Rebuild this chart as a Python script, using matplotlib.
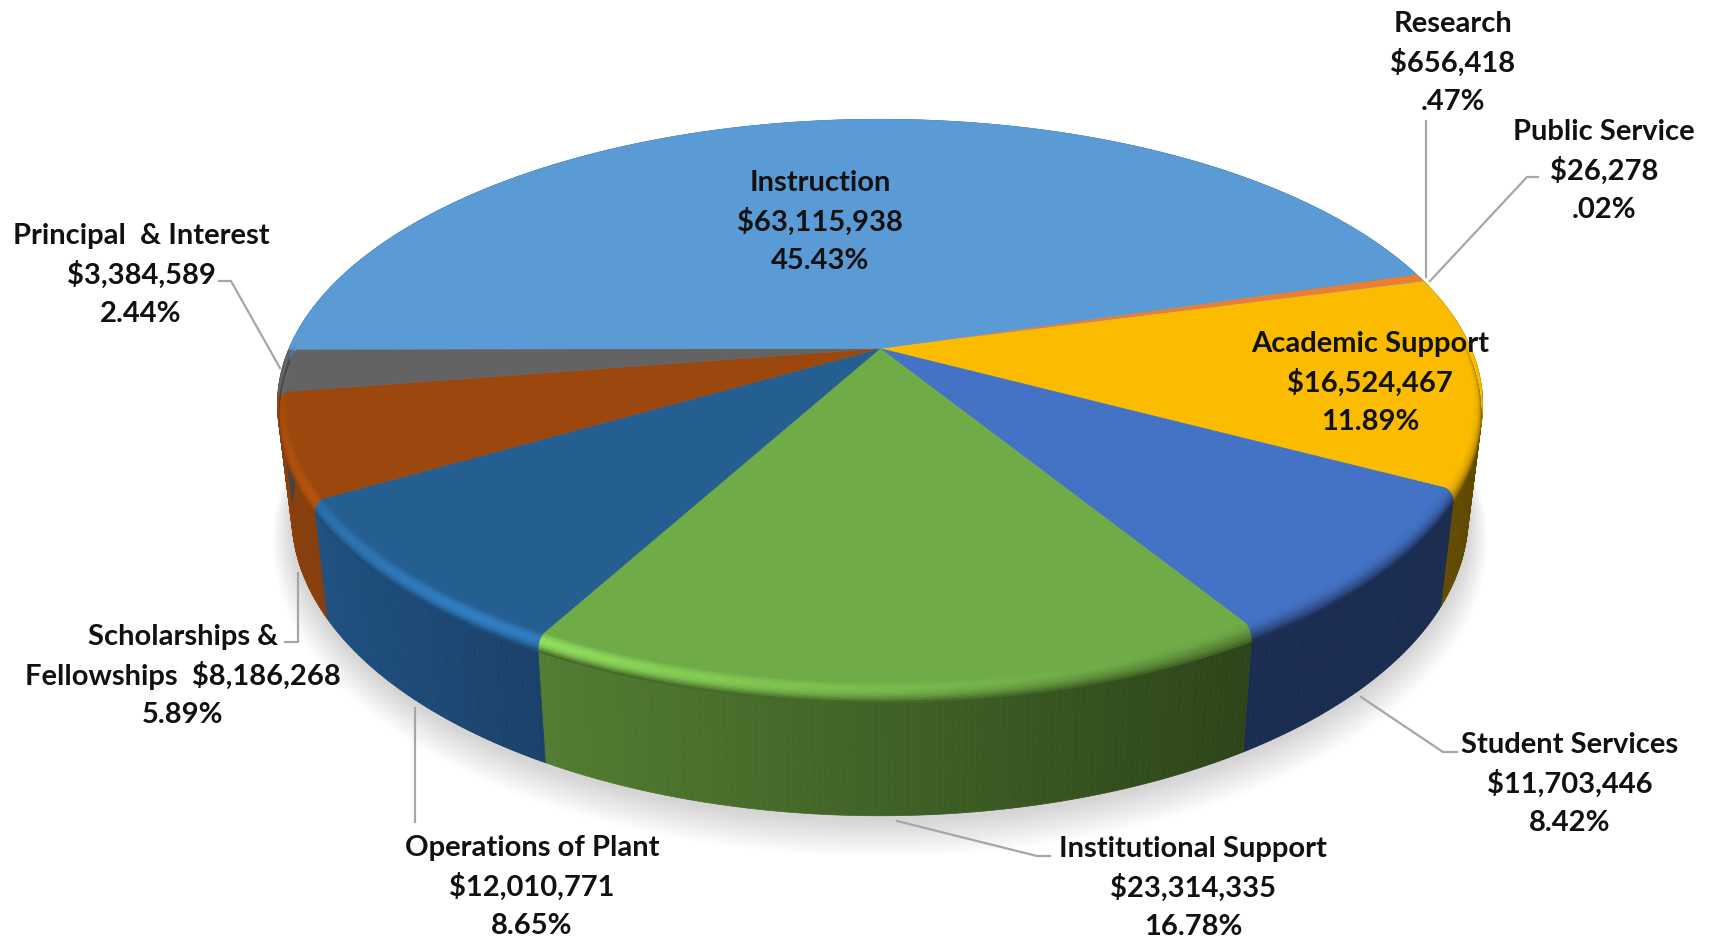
import numpy as np
import matplotlib
matplotlib.use("Agg")
import matplotlib.pyplot as plt
from matplotlib.collections import PolyCollection
from matplotlib.colors import to_rgb

# clockwise from the research slice
categories = ["Research", "Public Service", "Academic Support", "Student Services",
              "Institutional Support", "Operations of Plant",
              "Scholarships & Fellowships", "Principal & Interest", "Instruction"]
amounts = [656418, 26278, 16524467, 11703446, 23314335, 12010771, 8186268, 3384589, 63115938]
amount_labels = ["$656,418", "$26,278", "$16,524,467", "$11,703,446", "$23,314,335",
                 "$12,010,771", "$8,186,268", "$3,384,589", "$63,115,938"]
percent_labels = [".47%", ".02%", "11.89%", "8.42%", "16.78%", "8.65%", "5.89%", "2.44%", "45.43%"]

top_colors = ["#ed7d31", "#a5a5a5", "#fbbc00", "#4472c4", "#6fab47", "#255e91", "#9b470d", "#636363", "#5b9bd5"]
side_left = ["#8f4a1c", "#666666", "#6e5400", "#1b2d52", "#537d32", "#1f5080", "#8a400c", "#444444", "#3b6c9a"]
side_right = ["#8f4a1c", "#666666", "#614a00", "#1a2b4f", "#2d4519", "#1a4169", "#853d0b", "#444444", "#3b6c9a"]

# pie geometry in pixels of the picture
CX, CY = 880, 349.5
A, B, K = 274, 591, 0.1954
DEPTH = 109
START = 16.6
FS = 21


def project(theta, r=1.0, lift=0.0):
    t = np.radians(theta)
    u, v = r * np.cos(t), r * np.sin(t)
    w = 1 + K * v
    x = CX + B * u / w * (1 - 0.024 * lift)
    y = CY - A * v / w + lift * DEPTH / (1 + 0.14 * v)
    return x, y


def mix(c1, c2, t):
    return tuple((1 - t) * a + t * b for a, b in zip(c1, c2))


def highlight(theta):
    # rim catches the light at the front left only
    d = abs(((theta + 125) + 180) % 360 - 180)
    return max(0.0, 1 - d / 65) ** 1.2


fig = plt.figure(figsize=(17.11, 9.37), dpi=100)
ax = fig.add_axes([0, 0, 1, 1])
ax.set_xlim(0, 1711)
ax.set_ylim(937, 0)
ax.axis("off")

sweeps = np.array(amounts) / sum(amounts) * 360
edges = START - np.concatenate([[0], np.cumsum(sweeps)])

# soft shadow under the pie
circle = np.linspace(0, 360, 361)
for i in range(14, 0, -1):
    sx, sy = project(circle, r=1 + 0.0026 * i, lift=1.02 + 0.012 * i)
    ax.fill(sx, sy, color="black", alpha=0.012, lw=0, zorder=1)

# side wall
for i in range(len(amounts)):
    th = np.linspace(edges[i], edges[i + 1], max(int(sweeps[i]) * 2, 2) + 1)
    polys, cols = [], []
    x0, _ = project(edges[i + 1])
    x1, _ = project(edges[i])
    for a, b in zip(th[:-1], th[1:]):
        xa, ya = project(a)
        xb, yb = project(b)
        xc, yc = project(b, lift=1)
        xd, yd = project(a, lift=1)
        polys.append([(xa, ya), (xb, yb), (xc, yc), (xd, yd)])
        f = (0.5 * (xa + xb) - x0) / max(x1 - x0, 1)
        cols.append(mix(to_rgb(side_left[i]), to_rgb(side_right[i]), min(max(f, 0), 1)))
    ax.add_collection(PolyCollection(polys, facecolors=cols, edgecolors=cols, linewidths=0.5, zorder=2))

# top face
for i in range(len(amounts)):
    th = np.linspace(edges[i], edges[i + 1], max(int(sweeps[i]) * 2, 2) + 1)
    px, py = project(th)
    ax.fill(np.r_[CX, px], np.r_[CY, py], color=top_colors[i], lw=0.4, zorder=3)

# rounded rim between top and side
layers = np.linspace(0, 1, 15)
for i in range(len(amounts)):
    th = np.linspace(edges[i], edges[i + 1], max(int(sweeps[i]) * 2, 2) + 1)
    top = to_rgb(top_colors[i])
    polys, cols = [], []
    for a, b in zip(th[:-1], th[1:]):
        mid = 0.5 * (a + b)
        # only the front half shows the rim
        if np.sin(np.radians(mid)) > 0.02:
            continue
        h = highlight(mid)
        side = mix(to_rgb(side_right[i]), to_rgb(side_left[i]), 0.5)
        bright = tuple(min(1.0, c * 1.38) for c in top)
        for s0, s1 in zip(layers[:-1], layers[1:]):
            r0, r1 = 0.982 + 0.018 * np.sin(s0 * np.pi / 2), 0.982 + 0.018 * np.sin(s1 * np.pi / 2)
            l0, l1 = 0.11 * (1 - np.cos(s0 * np.pi / 2)), 0.11 * (1 - np.cos(s1 * np.pi / 2))
            xa, ya = project(a, r0, l0)
            xb, yb = project(b, r0, l0)
            xc, yc = project(b, r1, l1)
            xd, yd = project(a, r1, l1)
            polys.append([(xa, ya), (xb, yb), (xc, yc), (xd, yd)])
            sm = 0.5 * (s0 + s1)
            c = mix(top, side, sm ** 2.2)
            c = mix(c, bright, h * np.sin(sm * np.pi) ** 1.5)
            cols.append(c)
    if polys:
        ax.add_collection(PolyCollection(polys, facecolors=cols, edgecolors=cols, linewidths=0.3, zorder=4))

# leader lines
leaders = [
    ([1426, 1426], [122, 278]),
    ([1538, 1527, 1430], [178, 178, 282]),
    ([219, 231, 280], [282, 282, 369]),
    ([285, 298, 298], [643, 643, 574]),
    ([415, 415], [823, 709]),
    ([897, 1037, 1050], [822, 857, 857]),
    ([1361, 1443, 1457], [698, 753, 753]),
]
for lx, ly in leaders:
    ax.plot(lx, ly, color="#a6a6a6", lw=1.6, zorder=5, solid_joinstyle="round")

# labels
label_names = ["Research", "Public Service", "Academic Support", "Student Services",
               "Institutional Support", "Operations of Plant", "Scholarships &",
               "Principal  & Interest", "Instruction"]
label_pos = [(1453, 63), (1604, 171), (1370, 383), (1570, 784), (1193, 888),
             (532, 887), (183, 676), (141, 275), (820, 222)]
for i, (x, y) in enumerate(label_pos):
    middle = amount_labels[i]
    if i == 6:
        middle = "Fellowships  " + amount_labels[i]
    for txt, dy in zip([label_names[i], middle, percent_labels[i]], [-39, 0, 39]):
        ax.text(x, y + dy, txt, ha="center", va="center", fontsize=FS,
                family="Lato", weight="bold", color="#111111", zorder=6)

fig.savefig("out.png", dpi=100, facecolor="white")
